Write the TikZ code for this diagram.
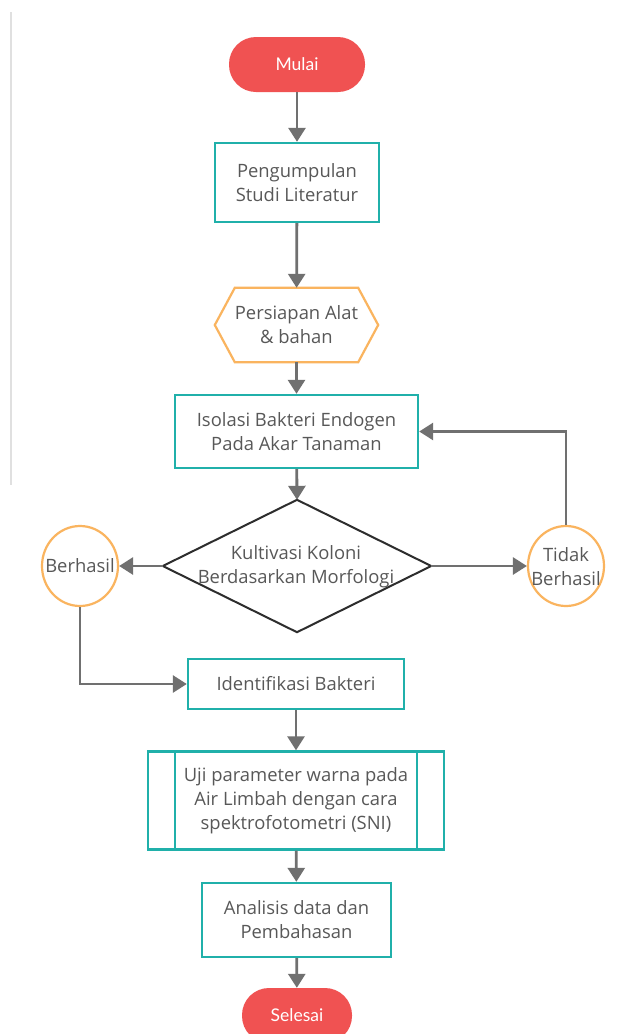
\documentclass[tikz,border=0pt]{standalone}
\usepackage{fontspec}
\setmainfont{Open Sans}
\newfontfamily\termfont{Lato}
\usetikzlibrary{shapes.geometric,arrows.meta}
\definecolor{termred}{RGB}{240,82,82}
\definecolor{tealc}{RGB}{32,176,170}
\definecolor{orangec}{RGB}{250,180,95}
\definecolor{arrowc}{RGB}{112,112,112}
\definecolor{textc}{RGB}{88,88,88}
\definecolor{diac}{RGB}{45,45,45}
\tikzset{
  every node/.style={font=\fontsize{18.4}{24}\selectfont, text=textc, align=center, inner sep=0pt},
  terminal/.style={fill=termred, rounded corners=27pt, font=\termfont\fontsize{17.5}{24}\selectfont, text=white},
  procbox/.style={draw=tealc, line width=2.4pt, fill=white},
  hexbox/.style={inner sep=0pt},
  condcirc/.style={ellipse, draw=orangec, line width=2.2pt, minimum width=76pt, minimum height=80pt},
  flow/.style={draw=arrowc, line width=2.8pt, -{Triangle[width=17pt,length=14pt]}}
}
\begin{document}
\begin{tikzpicture}[x=1pt,y=-1pt]
\useasboundingbox (0,0) rectangle (632,1034);
\fill[white] (0,0) rectangle (632,1034);
\draw[black!12, line width=2pt] (11,12) -- (11,485);

\node[terminal, minimum width=136pt, minimum height=55pt] (mulai) at (297,64.5) {Mulai};
\node[procbox, minimum width=164pt, minimum height=79pt] (studi) at (297,182.5) {Pengumpulan\\Studi Literatur};
\node[hexbox, minimum width=163pt, minimum height=74pt] (alat) at (296.5,325) {Persiapan Alat\\\& bahan};
\draw[orangec, line width=2.2pt, line join=miter]
  (alat.west) -- ([xshift=20pt]alat.north west) -- ([xshift=-20pt]alat.north east)
  -- (alat.east) -- ([xshift=-20pt]alat.south east) -- ([xshift=20pt]alat.south west) -- cycle;
\node[procbox, minimum width=243pt, minimum height=73pt] (isolasi) at (296.5,431.5) {Isolasi Bakteri Endogen\\Pada Akar Tanaman};
\node[minimum width=268pt, minimum height=132pt] (kult) at (297,566) {};
\draw[diac, line width=2pt, line join=miter] (kult.north) -- (kult.east) -- (kult.south) -- (kult.west) -- cycle;
\node (kulttext) at (296,567) {Kultivasi Koloni\\Berdasarkan Morfologi};
\node[condcirc] (berhasil) at (80,566) {};
\node (berhasiltext) at (berhasil) {Berhasil};
\node[condcirc] (tidak) at (566,566) {};
\node (tidaktext) at (566,567) {Tidak\\Berhasil};
\node[procbox, minimum width=216pt, minimum height=50pt] (ident) at (296,684) {Identifikasi Bakteri};
\node[procbox, minimum width=296pt, minimum height=98pt] (uji) at (296,800.5) {Uji parameter warna pada\\Air Limbah dengan cara\\spektrofotometri (SNI)};
\draw[tealc, line width=2.4pt] ([xshift=28pt]uji.north west) -- ([xshift=28pt]uji.south west);
\draw[tealc, line width=2.4pt] ([xshift=-28pt]uji.north east) -- ([xshift=-28pt]uji.south east);
\node[procbox, minimum width=189pt, minimum height=74pt] (anal) at (296.5,920) {Analisis data dan\\Pembahasan};
\node[terminal, minimum width=110pt, minimum height=55pt] (selesai) at (297,1015.5) {Selesai};

\draw[flow] (mulai) -- (studi);
\draw[flow] (studi) -- (alat);
\draw[flow] (alat) -- (isolasi);
\draw[flow] (isolasi) -- (kult.north);
\draw[flow] (kult.west) -- (berhasil);
\draw[flow] (kult.east) -- (tidak);
\draw[flow] (tidak.north) |- (isolasi.east);
\draw[flow] (berhasil.south) |- (ident.west);
\draw[flow] (ident) -- (uji);
\draw[flow] (uji) -- (anal);
\draw[flow] (anal) -- (selesai);
\end{tikzpicture}
\end{document}
